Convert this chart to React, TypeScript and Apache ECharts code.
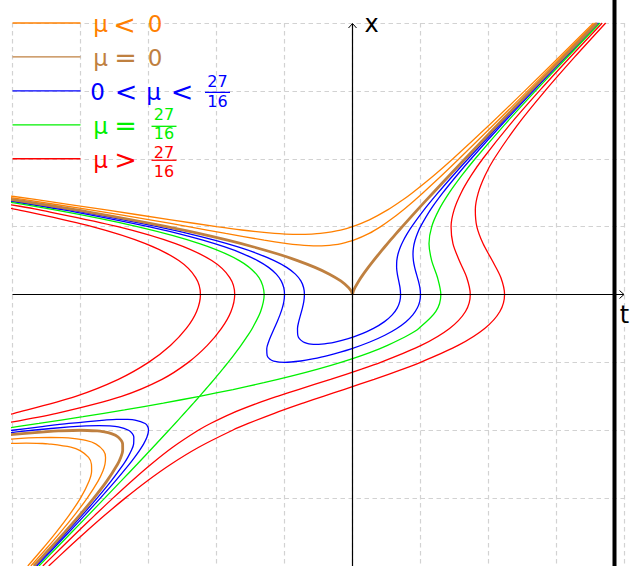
import React, { useEffect, useRef } from "react";
import * as echarts from "echarts";

type Pt = [number, number];

// Level curves of the family, every point given as [t, x].
// μ = -2
const muNeg2Upper: Pt[] = [
  [-5.3825, 1.5], [-4.6673, 1.4], [-3.6476, 1.25], [-2.6681, 1.1], [-2, 1], [-1.63, 0.95],
  [-1.1478, 0.9], [-0.9854, 0.89], [-0.7833, 0.885], [-0.5988, 0.89], [-0.4722, 0.9],
  [-0.175, 0.95], [0, 1], [0.2481, 1.1], [0.5226, 1.25], [0.7473, 1.4], [0.8825, 1.5],
  [1.1917, 1.75], [1.4772, 2], [2.0151, 2.5], [2.5326, 3], [3.041, 3.5], [3.5448, 4],
];
const muNeg2Hook: Pt[] = [
  [-5.2, -2.2], [-5.0674, -2.195], [-4.7974, -2.1903], [-4.5686, -2.195], [-4.48, -2.2],
  [-4.1418, -2.25], [-4.0054, -2.3], [-3.8813, -2.4], [-3.8391, -2.5], [-3.8367, -2.6],
  [-3.875, -2.75], [-4, -3], [-4.1664, -3.25], [-4.3562, -3.5], [-4.5606, -3.75], [-4.775, -4],
];
// μ = -1
const muNeg1Upper: Pt[] = [
  [-5.5382, 1.5], [-4.8461, 1.4], [-3.875, 1.25], [-2.9781, 1.1], [-2.4142, 1], [-1.8655, 0.9],
  [-1.2985, 0.8], [-0.9627, 0.75], [-0.7819, 0.73], [-0.6409, 0.72], [-0.5137, 0.7167],
  [-0.3959, 0.72], [-0.2839, 0.73], [-0.1623, 0.75], [0.0185, 0.8], [0.2455, 0.9], [0.4142, 1],
  [0.5581, 1.1], [0.75, 1.25], [0.9261, 1.4], [1.0382, 1.5], [1.3076, 1.75], [1.5678, 2],
  [2.0754, 2.5], [2.5758, 3], [3.0736, 3.5], [3.5704, 4],
];
const muNeg1Hook: Pt[] = [
  [-5.3231, -2.15], [-4.8731, -2.12], [-4.6346, -2.11], [-4.4394, -2.107], [-4.2696, -2.11],
  [-4.1157, -2.12], [-3.9219, -2.15], [-3.7772, -2.2], [-3.6621, -2.3], [-3.6317, -2.4],
  [-3.6399, -2.5], [-3.6704, -2.6], [-3.7418, -2.75], [-3.901, -3], [-4.0887, -3.25],
  [-4.2931, -3.5], [-4.5082, -3.75], [-4.7306, -4],
];
// μ = 0 (cusp at the origin)
const muZeroLeft: Pt[] = [
  [-5.6869, 1.5], [-4.082, 1.25], [-2.7321, 1], [-2.264, 0.9], [-1.8373, 0.8], [-1.4523, 0.7],
  [-1.1094, 0.6], [-0.809, 0.5], [-0.5519, 0.4], [-0.3392, 0.3], [-0.1727, 0.2], [-0.0558, 0.1],
  [-0.0185, 0.05], [0, 0],
];
const muZeroRight: Pt[] = [
  [0, 0], [0.0135, 0.05], [0.0358, 0.1], [0.0927, 0.2], [0.1592, 0.3], [0.2319, 0.4], [0.309, 0.5],
  [0.3894, 0.6], [0.4723, 0.7], [0.5573, 0.8], [0.644, 0.9], [0.7321, 1], [0.957, 1.25],
  [1.1869, 1.5], [1.4206, 1.75], [1.6569, 2], [2.1353, 2.5], [2.619, 3], [3.1062, 3.5], [3.5959, 4],
];
const muZeroHook: Pt[] = [
  [-5.3723, -2.1], [-4.8588, -2.05], [-4.486, -2.02], [-4.325, -2.01], [-4, -2], [-3.755, -2.01],
  [-3.674, -2.02], [-3.5462, -2.05], [-3.4477, -2.1], [-3.3807, -2.2], [-3.3795, -2.3],
  [-3.4085, -2.4], [-3.4549, -2.5], [-3.6131, -2.75], [-3.8038, -3], [-4.0119, -3.25],
  [-4.2305, -3.5], [-4.456, -3.75], [-4.6863, -4],
];
// μ = 1/2
const muHalfUpper: Pt[] = [
  [-5.7589, 1.5], [-4.1793, 1.25], [-2.8708, 1], [-2.4268, 0.9], [-2.0306, 0.8], [-1.6842, 0.7],
  [-1.3903, 0.6], [-1.1514, 0.5], [-0.9685, 0.4], [-0.8397, 0.3], [-0.7594, 0.2], [-0.7186, 0.1],
  [-0.7071, 0], [-0.7158, -0.1], [-0.7369, -0.2], [-0.7639, -0.3], [-0.7906, -0.4], [-0.809, -0.5],
  [-0.8045, -0.6], [-0.7819, -0.65], [-0.7226, -0.7], [-0.6675, -0.72], [-0.61, -0.73],
  [-0.5382, -0.7336], [-0.4558, -0.73], [-0.3693, -0.72], [-0.2574, -0.7], [-0.0631, -0.65],
  [0.0845, -0.6], [0.309, -0.5], [0.4706, -0.4], [0.5839, -0.3], [0.6569, -0.2], [0.6958, -0.1],
  [0.7071, 0], [0.6986, 0.1], [0.6794, 0.2], [0.6597, 0.3], [0.6485, 0.4], [0.6514, 0.5],
  [0.6703, 0.6], [0.7042, 0.7], [0.7506, 0.8], [0.8068, 0.9], [0.8708, 1], [1.0543, 1.25],
  [1.2589, 1.5], [1.476, 1.75], [1.7009, 2], [2.165, 2.5], [2.6404, 3], [3.1225, 3.5], [3.6087, 4],
];
const muHalfHook: Pt[] = [
  [-5.1673, -2.05], [-4.7071, -2], [-4.1621, -1.95], [-3.9148, -1.935], [-3.7268, -1.9305],
  [-3.5736, -1.935], [-3.4429, -1.95], [-3.2929, -2], [-3.2377, -2.05], [-3.2158, -2.1],
  [-3.2184, -2.2], [-3.2528, -2.3], [-3.3045, -2.4], [-3.3669, -2.5], [-3.5503, -2.75],
  [-3.756, -3], [-3.9738, -3.25], [-4.1994, -3.5], [-4.43, -3.75], [-4.6642, -4],
];
// μ = 1
const muOneUpper: Pt[] = [
  [-5.8295, 1.5], [-4.2732, 1.25], [-3, 1], [-2.5747, 0.9], [-2.2, 0.8], [-1.8778, 0.7],
  [-1.6096, 0.6], [-1.3956, 0.5], [-1.2341, 0.4], [-1.1206, 0.3], [-1.0488, 0.2], [-1.011, 0.1],
  [-1, 0], [-1.009, -0.1], [-1.0328, -0.2], [-1.0668, -0.3], [-1.1074, -0.4], [-1.1514, -0.5],
  [-1.1952, -0.6], [-1.2344, -0.7], [-1.261, -0.8], [-1.2551, -0.9], [-1.2184, -0.95],
  [-1.1604, -0.98], [-1, -1], [-0.7604, -0.98], [-0.5866, -0.95], [-0.3649, -0.9], [-0.019, -0.8],
  [0.2544, -0.7], [0.4752, -0.6], [0.6514, -0.5], [0.7874, -0.4], [0.8868, -0.3], [0.9528, -0.2],
  [0.989, -0.1], [1, 0], [0.991, 0.1], [0.9688, 0.2], [0.9406, 0.3], [0.9141, 0.4], [0.8956, 0.5],
  [0.8896, 0.6], [0.8978, 0.7], [0.92, 0.8], [0.9547, 0.9], [1, 1], [1.1482, 1.25], [1.3295, 1.5],
  [1.5307, 1.75], [1.7446, 2], [2.1947, 2.5], [2.6619, 3], [3.1387, 3.5], [3.6214, 4],
];
const muOneHook: Pt[] = [
  [-5.3987, -2.05], [-5, -2], [-4.5958, -1.95], [-4.1704, -1.9], [-3.6468, -1.85], [-3.443, -1.84],
  [-3.383, -1.8393], [-3.3282, -1.84], [-3.1982, -1.85], [-3.0496, -1.9], [-3.0092, -1.95],
  [-3, -2], [-3.0222, -2.1], [-3.0709, -2.2], [-3.1336, -2.3], [-3.2047, -2.4], [-3.2814, -2.5],
  [-3.4885, -2.75], [-3.7085, -3], [-3.936, -3.25], [-4.1684, -3.5], [-4.4041, -3.75], [-4.6422, -4],
];
// μ = 27/16 (two branches crossing at the saddle)
const muCritSteep: Pt[] = [
  [-4.6119, -4], [-4.3685, -3.75], [-4.126, -3.5], [-3.8844, -3.25], [-3.6439, -3], [-3.4049, -2.75],
  [-3.1678, -2.5], [-2.9329, -2.25], [-2.701, -2], [-2.6092, -1.9], [-2.5181, -1.8], [-2.4278, -1.7],
  [-2.3384, -1.6], [-2.25, -1.5], [-2.1627, -1.4], [-2.0768, -1.3], [-1.9924, -1.2], [-1.9097, -1.1],
  [-1.8292, -1], [-1.7511, -0.9], [-1.6396, -0.75], [-1.5369, -0.6], [-1.4747, -0.5], [-1.351, -0.25],
  [-1.299, 0], [-1.375, 0.25], [-1.6642, 0.5], [-2.25, 0.75], [-3.1651, 1], [-4.3971, 1.25],
  [-5.9242, 1.5],
];
const muCritShallow: Pt[] = [
  [-5.299, -2], [-4.6108, -1.9], [-3.9619, -1.8], [-3.3522, -1.7], [-2.7816, -1.6], [-2.25, -1.5],
  [-1.7573, -1.4], [-1.3032, -1.3], [-0.8876, -1.2], [-0.5103, -1.1], [-0.1708, -1], [0.1311, -0.9],
  [0.3959, -0.8], [0.5146, -0.75], [0.8169, -0.6], [0.9747, -0.5], [1.226, -0.25], [1.299, 0],
  [1.25, 0.25], [1.1642, 0.5], [1.125, 0.75], [1.1651, 1], [1.2721, 1.25], [1.4242, 1.5],
  [1.605, 1.75], [1.8041, 2], [2.2353, 2.5], [2.6913, 3], [3.161, 3.5], [3.6389, 4],
];
// μ = 3
const muThreeRight: Pt[] = [
  [-4.5545, -4], [-4.3011, -3.75], [-4.0456, -3.5], [-3.7868, -3.25], [-3.5228, -3], [-3.25, -2.75],
  [-2.9618, -2.5], [-2.6443, -2.25], [-2.2679, -2], [-2.0888, -1.9], [-1.774, -1.75], [-1.3931, -1.6],
  [-1.1044, -1.5], [-0.7966, -1.4], [-0.3235, -1.25], [0.1324, -1.1], [0.4142, -1], [1.01, -0.75],
  [1.4271, -0.5], [1.6617, -0.25], [1.7321, 0], [1.6797, 0.25], [1.57, 0.5], [1.4772, 0.75],
  [1.4495, 1], [1.4949, 1.25], [1.5987, 1.5], [1.7435, 1.75], [1.9161, 2], [2.3123, 2.5],
  [2.7473, 3], [3.2036, 3.5], [3.6723, 4],
];
const muThreeLeft: Pt[] = [
  [-6.0987, 1.5], [-4.8916, 1.3], [-4.6199, 1.25], [-3.4495, 1], [-2.6022, 0.75], [-2.07, 0.5],
  [-1.8047, 0.25], [-1.7321, 0], [-1.7867, -0.25], [-1.9271, -0.5], [-2.135, -0.75], [-2.4142, -1],
  [-2.8015, -1.25], [-3.3956, -1.5], [-4.351, -1.75], [-5.1312, -1.9], [-5.7321, -2],
];
// μ = 5
const muFiveRight: Pt[] = [
  [-4.4674, -4], [-4.1992, -3.75], [-3.9246, -3.5], [-3.6408, -3.25], [-3.3431, -3], [-3.024, -2.75],
  [-2.6705, -2.5], [-2.2611, -2.25], [-1.7639, -2], [-1.5329, -1.9], [-1.1493, -1.75], [-0.7265, -1.6],
  [-0.43, -1.5], [-0.1287, -1.4], [0.3177, -1.25], [0.7399, -1.1], [1, -1], [1.5524, -0.75],
  [1.9437, -0.5], [2.1675, -0.25], [2.2361, 0], [2.1814, 0.25], [2.0549, 0.5], [1.9195, 0.75],
  [1.8284, 1], [1.8061, 1.25], [1.8503, 1.5], [1.9473, 1.75], [2.0828, 2], [2.4283, 2.5],
  [2.8322, 3], [3.2682, 3.5], [3.7231, 4],
];
const muFiveLeft: Pt[] = [
  [-6.35, 1.5], [-5.19, 1.3], [-4.9311, 1.25], [-3.8284, 1], [-3.0445, 0.75], [-2.5549, 0.5],
  [-2.3064, 0.25], [-2.2361, 0], [-2.2925, -0.25], [-2.4437, -0.5], [-2.6774, -0.75], [-3, -1],
  [-3.4427, -1.25], [-4.07, -1.5], [-4.9757, -1.75], [-5.198, -1.8], [-6.2361, -2],
];

// Axis ranges (t horizontal, x vertical) with unit grid spacing
const T_RANGE: [number, number] = [-5, 4];
const X_RANGE: [number, number] = [-4, 4];
const GRID_STEP = 1;

// Legend content
const legendTokens: string[][] = [
  ["μ", "<", "0"],
  ["μ", "=", "0"],
  ["0", "<", "μ", "<"],
  ["μ", "="],
  ["μ", ">"],
];
const legendFractions: (string[] | null)[] = [null, null, ["27", "16"], ["27", "16"], ["27", "16"]];
const legendRowX = [4, 3.5, 3, 2.5, 2];

const ORANGE = "#ff8000";
const BROWN = "#bf8040";
const BLUE = "#0000ff";
const GREEN = "#00f000";
const RED = "#ff0000";
const legendColors = [ORANGE, BROWN, BLUE, GREEN, RED];

const FONT = '"DejaVu Sans"';

function curve(data: Pt[], color: string, width: number, z = 2) {
  return {
    type: "line",
    data,
    showSymbol: false,
    symbol: "none",
    smooth: 0.3,
    clip: true,
    silent: true,
    z,
    lineStyle: { color, width },
  };
}

export default function App() {
  const ref = useRef<HTMLDivElement>(null);

  useEffect(() => {
    if (!ref.current) return;
    const chart = echarts.init(ref.current, null, { renderer: "svg" });
    const axisCommon = {
      type: "value",
      interval: GRID_STEP,
      axisLine: { show: false },
      axisTick: { show: false },
      axisLabel: { show: false },
      splitLine: { show: true, lineStyle: { color: "#d2d2d2", width: 1.2, type: [4.5, 3.5] } },
    };
    chart.setOption({
      animation: false,
      backgroundColor: "#ffffff",
      grid: { left: 12.5, right: 8.5, top: 23, bottom: -2 },
      xAxis: { ...axisCommon, min: T_RANGE[0], max: T_RANGE[1] },
      yAxis: { ...axisCommon, min: X_RANGE[0], max: X_RANGE[1] },
      series: [
        curve(muNeg2Upper, ORANGE, 1.3),
        curve(muNeg2Hook, ORANGE, 1.3),
        curve(muNeg1Upper, ORANGE, 1.3),
        curve(muNeg1Hook, ORANGE, 1.3),
        curve(muHalfUpper, BLUE, 1.3),
        curve(muHalfHook, BLUE, 1.3),
        curve(muOneUpper, BLUE, 1.3),
        curve(muOneHook, BLUE, 1.3),
        curve(muCritSteep, GREEN, 1.3),
        curve(muCritShallow, GREEN, 1.3),
        curve(muThreeRight, RED, 1.3),
        curve(muThreeLeft, RED, 1.3),
        curve(muFiveRight, RED, 1.3),
        curve(muFiveLeft, RED, 1.3),
        curve(muZeroLeft, BROWN, 2.8, 3),
        curve(muZeroRight, BROWN, 2.8, 3),
        curve(muZeroHook, BROWN, 2.8, 3),
      ],
    });

    const P = (t: number, x: number) => chart.convertToPixel({ gridIndex: 0 }, [t, x]) as number[];
    const o = P(0, 0);
    const tEnd = P(T_RANGE[1], 0);
    const tStart = P(T_RANGE[0], 0);
    const xTop = P(0, X_RANGE[1]);
    const H = 566;
    const els: any[] = [];
    const stroke = (c: string, w: number) => ({ stroke: c, lineWidth: w, fill: "none" });

    // axes with open arrow heads
    els.push({ type: "line", z: 50, shape: { x1: tStart[0], y1: o[1], x2: tEnd[0] - 1, y2: o[1] }, style: stroke("#000", 1.2) });
    els.push({
      type: "polyline", z: 50,
      shape: { points: [[tEnd[0] - 5, o[1] - 4], [tEnd[0] - 0.5, o[1]], [tEnd[0] - 5, o[1] + 4]] },
      style: stroke("#000", 1),
    });
    els.push({ type: "line", z: 50, shape: { x1: o[0], y1: H, x2: o[0], y2: xTop[1] + 1 }, style: stroke("#000", 1.2) });
    els.push({
      type: "polyline", z: 50,
      shape: { points: [[o[0] - 4, xTop[1] + 5], [o[0], xTop[1] + 0.5], [o[0] + 4, xTop[1] + 5]] },
      style: stroke("#000", 1),
    });
    els.push({
      type: "text", z: 50, x: o[0] + 19, y: xTop[1] + 1,
      style: { text: "x", fill: "#000", font: `24px ${FONT}`, align: "center", verticalAlign: "middle" },
    });
    els.push({
      type: "text", z: 50, x: tEnd[0], y: o[1] + 20,
      style: { text: "t", fill: "#000", font: `24px ${FONT}`, align: "center", verticalAlign: "middle" },
    });

    // heavy frame rule on the right
    const rule = P(3.853, 0);
    els.push({ type: "rect", z: 60, shape: { x: rule[0] - 2, y: 0, width: 4, height: H }, style: { fill: "#000" } });

    // legend
    const tokenCenters = [
      [100.5, 124.5, 155],
      [100.5, 125.5, 155],
      [97.5, 126, 153.5, 182],
      [100.5, 125.5],
      [100.5, 125.5],
    ];
    const fracCenters = [0, 0, 217.5, 164, 164];
    // numerator / denominator offsets from the row line
    const fracOffsets = [
      [0, 0],
      [0, 0],
      [-9.5, 10.5],
      [-10, 9],
      [-6.3, 12.6],
    ];
    legendTokens.forEach((tokens, i) => {
      const color = legendColors[i];
      const a = P(T_RANGE[0], legendRowX[i]);
      const b = P(T_RANGE[0] + 1, legendRowX[i]);
      const y = a[1];
      els.push({ type: "line", z: 40, shape: { x1: a[0], y1: y, x2: b[0], y2: y }, style: stroke(color, 1.3) });
      tokens.forEach((tok, j) => {
        const isRel = tok === "<" || tok === ">" || tok === "=";
        els.push({
          type: "text", z: 40, x: tokenCenters[i][j], y: y + 1,
          style: {
            text: tok, fill: color, font: `${isRel ? 27 : 23}px ${FONT}`,
            align: "center", verticalAlign: "middle",
          },
        });
      });
      const frac = legendFractions[i];
      if (frac) {
        const cx = fracCenters[i];
        const [dn, dd] = fracOffsets[i];
        els.push({
          type: "text", z: 40, x: cx, y: y + dn,
          style: { text: frac[0], fill: color, font: `16px ${FONT}`, align: "center", verticalAlign: "middle" },
        });
        els.push({ type: "line", z: 40, shape: { x1: cx - 12.5, y1: y + 1.5, x2: cx + 12.5, y2: y + 1.5 }, style: stroke(color, 1.3) });
        els.push({
          type: "text", z: 40, x: cx, y: y + dd,
          style: { text: frac[1], fill: color, font: `16px ${FONT}`, align: "center", verticalAlign: "middle" },
        });
      }
    });

    chart.setOption({ graphic: els });
    return () => chart.dispose();
  }, []);

  return (
    <div
      ref={ref}
      style={{ position: "fixed", left: 0, top: 0, width: 633, height: 566, background: "#fff" }}
    />
  );
}
